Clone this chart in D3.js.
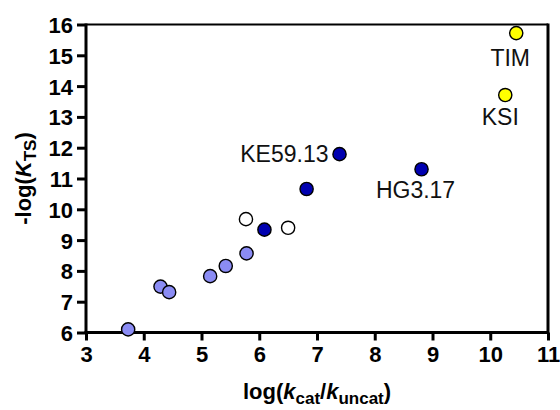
<!DOCTYPE html>
<html>
<head>
<meta charset="utf-8">
<script src="https://cdn.jsdelivr.net/npm/d3@7"></script>
<style>
  body { margin: 0; background: #fff; }
  svg { display: block; }
  text { font-family: "Liberation Sans", Arial, sans-serif; }
</style>
</head>
<body>
<svg id="chart" width="560" height="410"></svg>
<script>
// data
var lightX = [3.73, 4.29, 4.44, 5.15, 5.42, 5.78];
var lightY = [6.10, 7.49, 7.31, 7.83, 8.16, 8.57];
var openX = [5.77, 6.50];
var openY = [9.68, 9.40];
var darkX = [6.09, 6.82, 7.39, 8.81];
var darkY = [9.34, 10.66, 11.79, 11.30];
var yellowX = [10.45, 10.26];
var yellowY = [15.72, 13.71];
var labelNames = ["TIM", "KSI", "KE59.13", "HG3.17"];
var labelX = [10.45, 10.26, 7.39, 8.81];
var labelY = [15.72, 13.71, 11.79, 11.30];
var xTicks = [3, 4, 5, 6, 7, 8, 9, 10, 11];
var yTicks = [6, 7, 8, 9, 10, 11, 12, 13, 14, 15, 16];

var svg = d3.select("#chart"),
    MARGINS = {top: 24.5, right: 12, bottom: 77.5, left: 86},
    WIDTH = 560,
    HEIGHT = 410;

var xScale = d3.scaleLinear().domain([3, 11]).range([MARGINS.left, WIDTH - MARGINS.right]);
var yScale = d3.scaleLinear().domain([6, 16]).range([HEIGHT - MARGINS.bottom, MARGINS.top]);

var xAxis = d3.axisBottom(xScale).tickValues(xTicks).tickSize(8).tickPadding(6).tickSizeOuter(0);
var yAxis = d3.axisLeft(yScale).tickValues(yTicks).tickSize(9).tickPadding(4).tickSizeOuter(0);

var gx = svg.append("g")
    .attr("transform", "translate(0," + yScale(6) + ")")
    .call(xAxis);
var gy = svg.append("g")
    .attr("transform", "translate(" + xScale(3) + ",0)")
    .call(yAxis);

[gx, gy].forEach(function(g) {
  g.attr("font-size", 22).attr("font-weight", "bold")
   .attr("font-family", "'Liberation Sans', Arial, sans-serif");
  g.select(".domain").remove();
  g.selectAll(".tick line").attr("stroke-width", 3).attr("stroke", "#000");
  g.selectAll(".tick text").attr("fill", "#000");
});
gy.selectAll(".tick text").attr("dy", "0.36em");

// frame: thick left/bottom/right, thinner top
svg.append("path")
    .attr("d", "M" + xScale(3) + "," + (yScale(6) + 1.5) + "V" + (yScale(16) - 1))
    .attr("fill", "none").attr("stroke", "#000").attr("stroke-width", 3);
svg.append("path")
    .attr("d", "M" + xScale(3) + "," + yScale(16) + "H" + xScale(11))
    .attr("fill", "none").attr("stroke", "#000").attr("stroke-width", 2);
svg.append("path")
    .attr("d", "M" + (xScale(3) - 1.5) + "," + yScale(6) + "H" + xScale(11) + "V" + (yScale(16) - 1))
    .attr("fill", "none").attr("stroke", "#000").attr("stroke-width", 3);

// points
function drawGroup(xs, ys, fill) {
  svg.append("g").selectAll("circle")
      .data(xs.map(function(x, i) { return [x, ys[i]]; }))
      .enter().append("circle")
      .attr("cx", function(d) { return xScale(d[0]); })
      .attr("cy", function(d) { return yScale(d[1]); })
      .attr("r", 6.6)
      .attr("fill", fill)
      .attr("stroke", "#000")
      .attr("stroke-width", 1.4);
}
drawGroup(lightX, lightY, "#8b8cf4");
drawGroup(openX, openY, "#ffffff");
drawGroup(darkX, darkY, "#0000b0");
drawGroup(yellowX, yellowY, "#ffff00");

// point labels
var labelOffsets = [
  {dx: -6, dy: 33, anchor: "middle"},
  {dx: -5, dy: 30, anchor: "middle"},
  {dx: -11, dy: 8, anchor: "end"},
  {dx: -6, dy: 29, anchor: "middle"}
];
svg.append("g").selectAll("text")
    .data(labelNames)
    .enter().append("text")
    .attr("x", function(d, i) { return xScale(labelX[i]) + labelOffsets[i].dx; })
    .attr("y", function(d, i) { return yScale(labelY[i]) + labelOffsets[i].dy; })
    .attr("text-anchor", function(d, i) { return labelOffsets[i].anchor; })
    .attr("font-size", 23)
    .attr("fill", "#111")
    .text(function(d) { return d; });

// axis titles
var xt = svg.append("text")
    .attr("x", (xScale(3) + xScale(11)) / 2)
    .attr("y", 399)
    .attr("text-anchor", "middle")
    .attr("font-size", 22)
    .attr("font-weight", "bold");
xt.append("tspan").text("log(");
xt.append("tspan").attr("font-style", "italic").text("k");
xt.append("tspan").attr("dy", 5).attr("font-size", 17).text("cat");
xt.append("tspan").attr("dy", -5).text("/");
xt.append("tspan").attr("font-style", "italic").text("k");
xt.append("tspan").attr("dy", 5).attr("font-size", 17).text("uncat");
xt.append("tspan").attr("dy", -5).text(")");

var yt = svg.append("text")
    .attr("transform", "translate(31," + ((yScale(6) + yScale(16)) / 2) + ") rotate(-90)")
    .attr("text-anchor", "middle")
    .attr("font-size", 22)
    .attr("font-weight", "bold");
yt.append("tspan").text("-log(");
yt.append("tspan").attr("font-style", "italic").text("K");
yt.append("tspan").attr("dy", 5).attr("font-size", 17).text("TS");
yt.append("tspan").attr("dy", -5).text(")");
</script>
</body>
</html>
